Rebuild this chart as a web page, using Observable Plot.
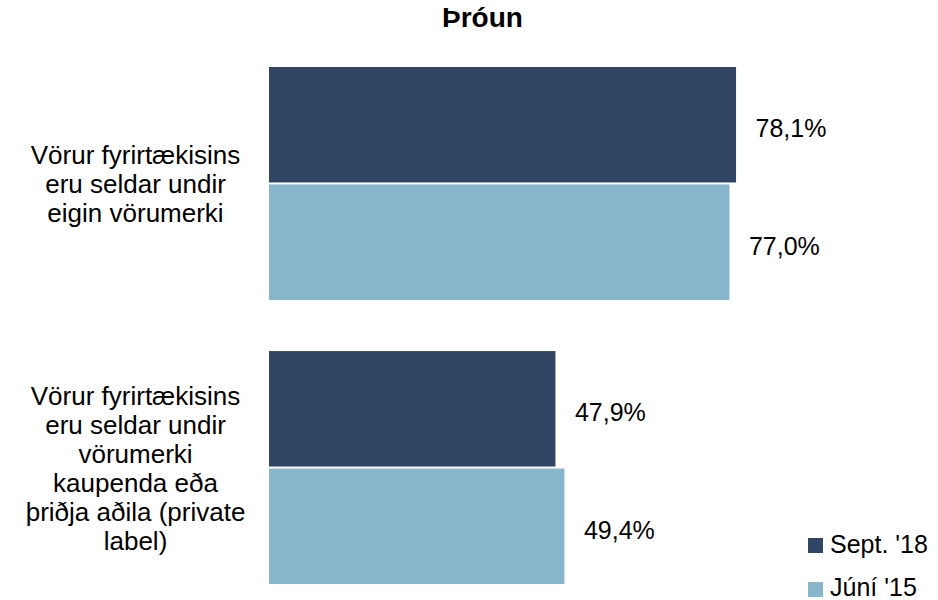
<!DOCTYPE html>
<html><head><meta charset="utf-8">
<script src="https://cdn.jsdelivr.net/npm/d3@7"></script>
<script src="https://cdn.jsdelivr.net/npm/@observablehq/plot@0.6"></script>
<style>
body{margin:0;background:#fff;font-family:"Liberation Sans",Arial,sans-serif;color:#000;}
#wrap{position:relative;width:938px;height:600px;overflow:hidden;background:#fff;}
#title{box-sizing:border-box;width:938px;height:36px;line-height:36px;padding-left:27px;text-align:center;font-weight:bold;font-size:28px;}
#chart svg{display:block;}
.lg-sq{position:absolute;width:15px;height:15px;}
.lg-tx{position:absolute;font-size:25px;line-height:30px;white-space:nowrap;}
</style></head>
<body><div id="wrap"><div id="title">Þróun</div><div id="chart"></div><div id="legend"></div></div>
<script>
const categories = [
  "Vörur fyrirtækisins eru seldar undir eigin vörumerki",
  "Vörur fyrirtækisins eru seldar undir vörumerki kaupenda eða þriðja aðila (private label)"
];
const categoryLines = [
  ["Vörur fyrirtækisins", "eru seldar undir", "eigin vörumerki"],
  ["Vörur fyrirtækisins", "eru seldar undir", "vörumerki", "kaupenda eða", "þriðja aðila (private", "label)"]
];
const series = ["Sept. '18", "Júní '15"];
const sept18 = [78.1, 47.9];
const juni15 = [77.0, 49.4];
const colors = ["#314565", "#87B5CC"];

const data = categories.flatMap((c, i) => [
  {category: c, series: series[0], value: sept18[i]},
  {category: c, series: series[1], value: juni15[i]}
]);
const labels = categories.map((c, i) => ({category: c, label: categoryLines[i].join("\n")}));
const fmt = v => v.toFixed(1).replace(".", ",") + "%";

const plot = Plot.plot({
  width: 938, height: 564,
  marginLeft: 269, marginRight: 71, marginTop: 31, marginBottom: 16,
  x: {domain: [0, 100], axis: null},
  y: {domain: series, axis: null, paddingInner: 0.017, paddingOuter: 0, round: false},
  fy: {domain: categories, axis: null, paddingInner: 0.18, paddingOuter: 0, round: false},
  color: {domain: series, range: colors},
  style: {fontFamily: '"Liberation Sans", Arial, sans-serif', background: "white", color: "#000"},
  marks: [
    Plot.barX(data, {x: "value", y: "series", fy: "category", fill: "series"}),
    Plot.text(data, {x: "value", y: "series", fy: "category", text: d => fmt(d.value),
      textAnchor: "start", dx: 19, dy: 4, fontSize: 25, fill: "#000"}),
    Plot.text(labels, {fy: "category", text: "label", frameAnchor: "left", dx: -134,
      textAnchor: "middle", fontSize: 26, lineHeight: 1.12, fill: "#000"})
  ]
});
document.getElementById("chart").appendChild(plot);

const legend = document.getElementById("legend");
const lgPos = [{sq: 538, tx: 529}, {sq: 582, tx: 572}];
series.forEach((s, i) => {
  const sq = document.createElement("div");
  sq.className = "lg-sq";
  sq.style.left = "808px"; sq.style.top = lgPos[i].sq + "px"; sq.style.background = colors[i];
  const tx = document.createElement("div");
  tx.className = "lg-tx";
  tx.style.left = "830px"; tx.style.top = lgPos[i].tx + "px";
  tx.textContent = s;
  legend.appendChild(sq); legend.appendChild(tx);
});
</script>
</body></html>
